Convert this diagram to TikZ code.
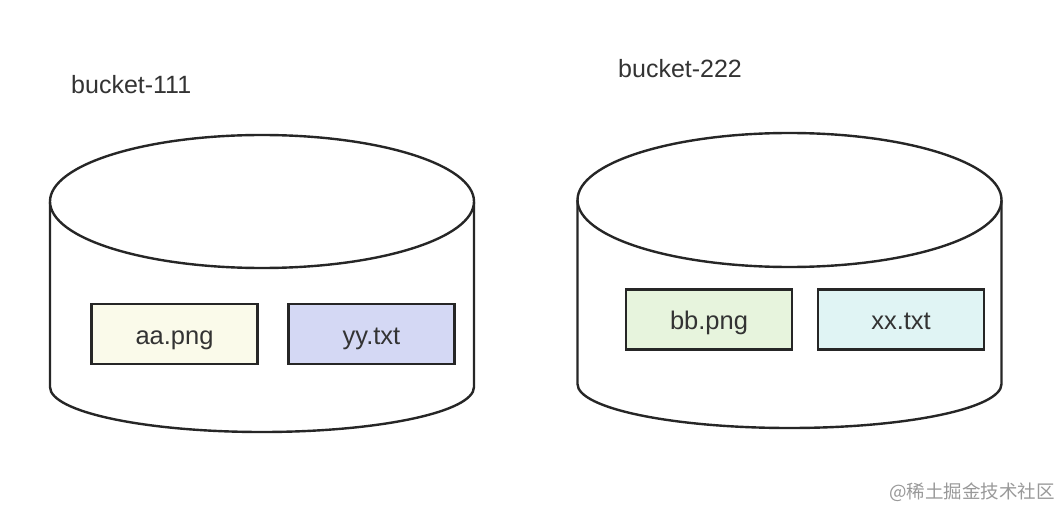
\documentclass[tikz,border=0pt]{standalone}
\usepackage{fontspec}
\setmainfont{Liberation Sans}
\newfontfamily\cjk{Noto Sans CJK SC}
\definecolor{ink}{HTML}{262626}
\definecolor{txt}{HTML}{333333}
\definecolor{fillA}{HTML}{FAFAEA}
\definecolor{fillY}{HTML}{D4D8F4}
\definecolor{fillB}{HTML}{E7F4DD}
\definecolor{fillX}{HTML}{E0F4F4}
\begin{document}
\begin{tikzpicture}[x=1pt,y=-1pt,
  cyl/.style={draw=ink,line width=2.4pt,fill=white},
  filebox/.style={draw=ink,line width=2.4pt,minimum width=166pt,minimum height=60pt,inner sep=0pt,
    text height=24pt,text depth=4pt,
    font=\fontsize{25.5}{30}\selectfont,text=txt},
  lbl/.style={font=\fontsize{25}{30}\selectfont,text=txt,inner sep=0pt,anchor=base west},
  wmark/.style={font=\cjk\fontsize{18.5}{22}\selectfont,text=black!40,inner sep=0pt,anchor=east}]
\useasboundingbox[fill=white] (0,0) rectangle (1060,508);
% bucket 1
\draw[cyl] (50,201.5) -- (50,387) arc[start angle=180,end angle=0,x radius=212,y radius=45] -- (474,201.5);
\draw[cyl] (262,201.5) ellipse[x radius=212,y radius=66.5];
% bucket 2
\draw[cyl] (577.5,200) -- (577.5,384) arc[start angle=180,end angle=0,x radius=212,y radius=44] -- (1001.5,200);
\draw[cyl] (789.5,200) ellipse[x radius=212,y radius=67];
% labels
\node[lbl] (l1) at (71,94) {bucket-111};
\node[lbl] (l2) at (618,78) {bucket-222};
% files
\node[filebox,fill=fillA] (aa) at (174.5,334) {aa.png};
\node[filebox,fill=fillY] (yy) at (371.5,334) {yy.txt};
\node[filebox,fill=fillB] (bb) at (709,319.5) {bb.png};
\node[filebox,fill=fillX] (xx) at (901,319.5) {xx.txt};
% watermark
\node[wmark] (wm) at (1055,492) {@稀土掘金技术社区};
\end{tikzpicture}
\end{document}
